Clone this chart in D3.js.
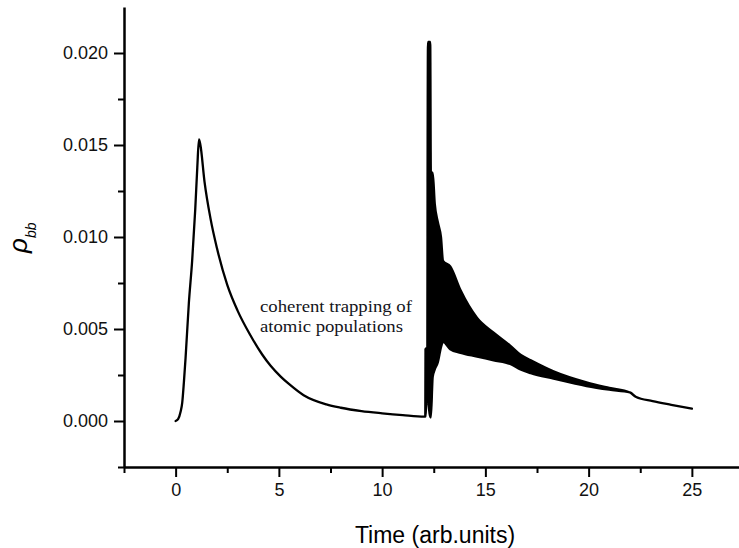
<!DOCTYPE html>
<html>
<head>
<meta charset="utf-8">
<script src="https://cdn.jsdelivr.net/npm/d3@7"></script>
<style>
  html, body { margin: 0; padding: 0; background: #fff; }
  svg { display: block; }
</style>
</head>
<body>
<svg id="chart" width="739" height="548"></svg>
<script>
// ---- data ----
const time = [0, 0.12, 0.24, 0.32, 0.4, 0.48, 0.64, 0.8, 0.95, 1.05, 1.13, 1.2, 1.4, 1.69, 2.0, 2.5, 3.0, 3.6, 4.2, 4.6, 5.1, 5.5, 6.2, 7.3, 8.0, 9.0, 10.0, 11.0, 12.05, 12.09,
  12.10, 12.19, 12.20, 12.22, 12.33, 12.36, 12.45, 12.55, 12.7, 12.85, 12.95, 13.3, 13.8, 14.6, 15.4, 16.2, 16.7, 17.2, 18.3, 19.9, 21.0,
  22.0, 22.3, 23.1, 24.0, 25.0];
const upper = [0, 0.0001, 0.0005, 0.0010, 0.0021, 0.0034, 0.0064, 0.0087, 0.0115, 0.0138, 0.0153, 0.0150, 0.0130, 0.0110, 0.0094, 0.0074, 0.0060, 0.0047, 0.0036, 0.0030, 0.0024, 0.0020, 0.0014, 0.0009, 0.00072, 0.00054, 0.00042, 0.00032, 0.00024, 0.00024,
  0.0039, 0.0040, 0.0130, 0.0206, 0.0206, 0.0135, 0.0135, 0.0118, 0.0108, 0.0100, 0.0087, 0.0084, 0.0071, 0.0056, 0.0048, 0.0041, 0.0036, 0.0033, 0.0027, 0.0021, 0.0018,
  0.00155, 0.0013, 0.00108, 0.00088, 0.00067];
const lower = [0, 0.0001, 0.0005, 0.0010, 0.0021, 0.0034, 0.0064, 0.0087, 0.0115, 0.0138, 0.0153, 0.0150, 0.0130, 0.0110, 0.0094, 0.0074, 0.0060, 0.0047, 0.0036, 0.0030, 0.0024, 0.0020, 0.0014, 0.0009, 0.00072, 0.00054, 0.00042, 0.00032, 0.00024, 0.00024,
  0.00024, 0.0030, 0.0010, 0.0010, 0.0002, 0.0002, 0.0024, 0.0028, 0.0032, 0.0040, 0.0043, 0.0039, 0.0037, 0.0035, 0.0033, 0.0031, 0.0028, 0.0026, 0.0023, 0.0019, 0.0017,
  0.00155, 0.0013, 0.00108, 0.00088, 0.00067];

const xMajorTicks = [0, 5, 10, 15, 20, 25];
const xMinorTicks = [-2.5, 2.5, 7.5, 12.5, 17.5, 22.5];
const yMajorTicks = [0, 0.005, 0.010, 0.015, 0.020];
const yMinorTicks = [-0.0025, 0.0025, 0.0075, 0.0125, 0.0175];
const yTickLabels = ["0.000", "0.005", "0.010", "0.015", "0.020"];
const xTickLabels = ["0", "5", "10", "15", "20", "25"];
const xTitle = "Time (arb.units)";
const annotation = ["coherent trapping of", "atomic populations"];

// ---- layout ----
const svg = d3.select("#chart");
const plotLeft = 124, plotRight = 743.5, plotTop = 7, plotBottom = 467;

const x = d3.scaleLinear().domain([-2.5, 27.5]).range([plotLeft, plotRight]);
const y = d3.scaleLinear().domain([-0.0025, 0.0225]).range([plotBottom, plotTop]);

const tickFont = "'Liberation Sans', Arial, sans-serif";
const axisColor = "#000";

// X axis
const gx = svg.append("g").attr("transform", `translate(0,${plotBottom})`);
gx.call(d3.axisBottom(x).tickValues(xMajorTicks).tickFormat((d, i) => xTickLabels[i]).tickSize(10).tickPadding(6).tickSizeOuter(0));
gx.append("g").call(d3.axisBottom(x).tickValues(xMinorTicks).tickFormat("").tickSize(6).tickSizeOuter(0))
  .select(".domain").remove();
gx.selectAll(".domain").attr("stroke", axisColor).attr("stroke-width", 2.5);
gx.selectAll(".tick line").attr("stroke", axisColor).attr("stroke-width", 2);
gx.selectAll(".tick text").attr("font-family", tickFont).attr("font-size", 18).attr("fill", "#111");

// Y axis
const gy = svg.append("g").attr("transform", `translate(${plotLeft},0)`);
gy.call(d3.axisLeft(y).tickValues(yMajorTicks).tickFormat((d, i) => yTickLabels[i]).tickSize(10).tickPadding(6).tickSizeOuter(0));
gy.append("g").call(d3.axisLeft(y).tickValues(yMinorTicks).tickFormat("").tickSize(6).tickSizeOuter(0))
  .select(".domain").remove();
gy.selectAll(".domain").attr("stroke", axisColor).attr("stroke-width", 2.5);
gy.selectAll(".tick line").attr("stroke", axisColor).attr("stroke-width", 2);
gy.selectAll(".tick text").attr("font-family", tickFont).attr("font-size", 18).attr("fill", "#111");

// Data: envelope area (oscillating region filled), outlined so smooth parts read as a line
const rows = time.map((t, i) => ({ t, lo: lower[i], hi: upper[i] }));
const area = d3.area().x(d => x(d.t)).y0(d => y(d.lo)).y1(d => y(d.hi)).curve(d3.curveMonotoneX);
svg.append("path")
  .datum(rows)
  .attr("d", area)
  .attr("fill", "#000")
  .attr("stroke", "#000")
  .attr("stroke-width", 2.3)
  .attr("stroke-linejoin", "round");

// Annotation
const ann = svg.append("text")
  .attr("font-family", "'Liberation Serif', 'Times New Roman', serif")
  .attr("font-size", 17)
  .attr("fill", "#141420");
ann.append("tspan").attr("x", 260).attr("y", 312).attr("textLength", 152).attr("lengthAdjust", "spacingAndGlyphs").text(annotation[0]);
ann.append("tspan").attr("x", 260).attr("y", 332).attr("textLength", 143).attr("lengthAdjust", "spacingAndGlyphs").text(annotation[1]);

// X axis title
svg.append("text")
  .attr("x", 435).attr("y", 543)
  .attr("text-anchor", "middle")
  .attr("font-family", tickFont)
  .attr("font-size", 23)
  .attr("fill", "#000")
  .text(xTitle);

// Y axis title: rho_bb
const yt = svg.append("text")
  .attr("transform", "translate(27,253) rotate(-90)")
  .attr("font-family", tickFont)
  .attr("font-style", "italic")
  .attr("fill", "#000");
yt.append("tspan").attr("font-size", 26).text("ρ");
yt.append("tspan").attr("font-size", 14).attr("dy", 9).text("bb");
</script>
</body>
</html>
